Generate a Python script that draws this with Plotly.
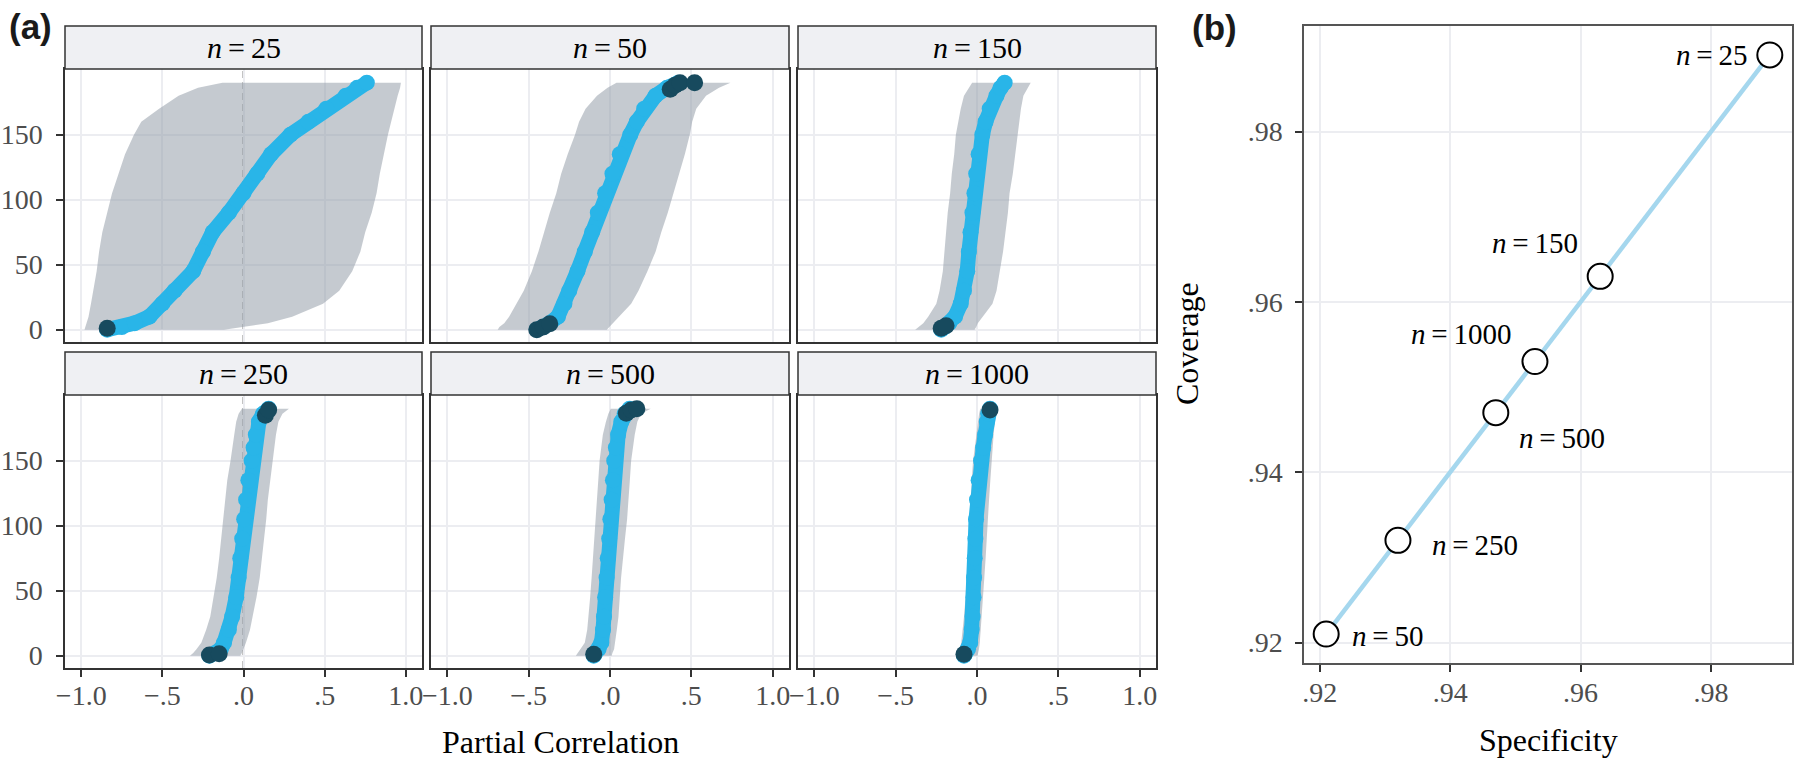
import plotly.graph_objects as go

# ---- panel (a): ranked partial correlations with intervals ----
ranks = [0, 2, 5, 10, 20, 30, 45, 60, 75, 90, 105, 120, 135, 150, 160, 170, 180, 186, 190]
panels = ["25", "50", "150", "250", "500", "1000"]

est_25 = [-0.84, -0.75, -0.67, -0.58, -0.50, -0.425, -0.31, -0.25, -0.19, -0.09, 0.0, 0.085, 0.17, 0.29, 0.40, 0.51, 0.63, 0.70, 0.76]
lo_25 = [-0.98, -0.975, -0.965, -0.955, -0.94, -0.925, -0.905, -0.89, -0.87, -0.84, -0.81, -0.77, -0.73, -0.675, -0.63, -0.52, -0.40, -0.28, -0.13]
hi_25 = [-0.12, 0.0, 0.15, 0.30, 0.49, 0.59, 0.67, 0.72, 0.75, 0.79, 0.82, 0.84, 0.865, 0.89, 0.91, 0.93, 0.95, 0.965, 0.97]

est_50 = [-0.45, -0.41, -0.37, -0.32, -0.28, -0.25, -0.20, -0.155, -0.11, -0.075, -0.03, 0.015, 0.06, 0.125, 0.165, 0.21, 0.28, 0.35, 0.42]
lo_50 = [-0.69, -0.68, -0.65, -0.62, -0.575, -0.53, -0.48, -0.44, -0.405, -0.37, -0.33, -0.30, -0.26, -0.215, -0.19, -0.15, -0.08, -0.015, 0.04]
hi_50 = [-0.02, -0.005, 0.02, 0.055, 0.13, 0.175, 0.23, 0.28, 0.315, 0.355, 0.39, 0.425, 0.46, 0.49, 0.505, 0.53, 0.59, 0.67, 0.74]

est_150 = [-0.22, -0.20, -0.17, -0.135, -0.10, -0.08, -0.06, -0.05, -0.04, -0.028, -0.016, -0.005, 0.01, 0.033, 0.053, 0.078, 0.12, 0.145, 0.17]
lo_150 = [-0.38, -0.36, -0.33, -0.30, -0.25, -0.23, -0.21, -0.20, -0.19, -0.18, -0.165, -0.155, -0.14, -0.13, -0.115, -0.10, -0.08, -0.05, -0.03]
hi_150 = [-0.015, -0.005, 0.005, 0.035, 0.095, 0.12, 0.14, 0.16, 0.175, 0.19, 0.20, 0.22, 0.235, 0.25, 0.26, 0.27, 0.285, 0.31, 0.33]

est_250 = [-0.21, -0.15, -0.14, -0.12, -0.09, -0.07, -0.045, -0.03, -0.02, -0.008, 0.004, 0.016, 0.03, 0.05, 0.062, 0.076, 0.095, 0.12, 0.155]
lo_250 = [-0.33, -0.31, -0.29, -0.26, -0.23, -0.205, -0.185, -0.165, -0.15, -0.137, -0.125, -0.114, -0.10, -0.08, -0.07, -0.057, -0.045, -0.03, -0.01]
hi_250 = [-0.02, -0.01, 0.0, 0.015, 0.04, 0.058, 0.08, 0.10, 0.115, 0.128, 0.14, 0.15, 0.165, 0.18, 0.19, 0.20, 0.215, 0.24, 0.28]

est_500 = [-0.10, -0.09, -0.07, -0.053, -0.043, -0.037, -0.03, -0.021, -0.014, -0.005, 0.002, 0.01, 0.018, 0.026, 0.036, 0.05, 0.07, 0.09, 0.12]
lo_500 = [-0.21, -0.20, -0.18, -0.155, -0.14, -0.132, -0.122, -0.113, -0.104, -0.095, -0.088, -0.08, -0.072, -0.064, -0.055, -0.044, -0.025, -0.01, 0.005]
hi_500 = [0.01, 0.015, 0.025, 0.032, 0.042, 0.052, 0.06, 0.068, 0.078, 0.092, 0.105, 0.115, 0.122, 0.13, 0.14, 0.152, 0.168, 0.19, 0.25]

est_1000 = [-0.08, -0.07, -0.055, -0.042, -0.033, -0.027, -0.021, -0.018, -0.014, -0.01, -0.006, 0.0, 0.01, 0.025, 0.038, 0.05, 0.06, 0.068, 0.08]
lo_1000 = [-0.125, -0.115, -0.105, -0.097, -0.087, -0.08, -0.07, -0.062, -0.055, -0.05, -0.045, -0.04, -0.033, -0.024, -0.015, -0.004, 0.005, 0.013, 0.02]
hi_1000 = [0.003, 0.006, 0.012, 0.017, 0.025, 0.03, 0.038, 0.045, 0.053, 0.061, 0.068, 0.074, 0.082, 0.09, 0.095, 0.102, 0.11, 0.118, 0.125]

# flagged (dark) points: x value and rank
flag_x_25, flag_r_25 = [-0.84], [1]
flag_x_50, flag_r_50 = [-0.45, -0.41, -0.37, 0.37, 0.40, 0.43, 0.52], [0, 2, 4.5, 185, 188, 190, 190]
flag_x_150, flag_r_150 = [-0.22, -0.19], [1, 3]
flag_x_250, flag_r_250 = [-0.21, -0.15, 0.135, 0.155], [0.5, 1.5, 185, 189]
flag_x_500, flag_r_500 = [-0.10, 0.10, 0.13, 0.165], [1, 186.5, 189, 190]
flag_x_1000, flag_r_1000 = [-0.08, 0.08], [1, 189]

est = [est_25, est_50, est_150, est_250, est_500, est_1000]
lo = [lo_25, lo_50, lo_150, lo_250, lo_500, lo_1000]
hi = [hi_25, hi_50, hi_150, hi_250, hi_500, hi_1000]
flag_x = [flag_x_25, flag_x_50, flag_x_150, flag_x_250, flag_x_500, flag_x_1000]
flag_r = [flag_r_25, flag_r_50, flag_r_150, flag_r_250, flag_r_500, flag_r_1000]

# ---- panel (b): specificity vs coverage ----
b_labels = ["25", "50", "150", "250", "500", "1000"]
specificity = [0.989, 0.921, 0.963, 0.932, 0.947, 0.953]
coverage = [0.989, 0.921, 0.963, 0.932, 0.947, 0.953]

W, H = 1800, 764
SERIF = "Liberation Serif"
GRID = "#ECEDF1"
BORDER = "#333333"
TICKFONT = dict(family=SERIF, size=28, color="#4D4D4D")
EQ = "\u2009=\u2009"


def px(p):
    return p / W


def py(p):
    return 1 - p / H


cols = [(65, 422), (431, 789), (798, 1156)]
rows = [(69, 342), (395, 668)]
strips = [(26, 69), (352, 395)]

fig = go.Figure()
layout = dict(width=W, height=H, margin=dict(l=0, r=0, t=0, b=0, autoexpand=False),
              paper_bgcolor="white", plot_bgcolor="white", showlegend=False)
shapes, annotations = [], []

for i, n in enumerate(panels):
    r, c = divmod(i, 3)
    k = i + 1
    xa = "x" if k == 1 else f"x{k}"
    ya = "y" if k == 1 else f"y{k}"
    layout["xaxis" if k == 1 else f"xaxis{k}"] = dict(
        domain=[px(cols[c][0]), px(cols[c][1])], range=[-1.1, 1.1], anchor=ya, automargin=False,
        tickvals=[-1, -0.5, 0, 0.5, 1], ticktext=["\u22121.0", "\u2212.5", ".0", ".5", "1.0"],
        showticklabels=(r == 1), ticks="outside" if r == 1 else "", ticklen=7, tickwidth=1.5,
        tickcolor=BORDER, tickfont=TICKFONT, ticklabelstandoff=-5,
        showgrid=True, gridcolor=GRID, gridwidth=1.5, zeroline=False,
        showline=True, mirror=True, linecolor=BORDER, linewidth=1.5)
    layout["yaxis" if k == 1 else f"yaxis{k}"] = dict(
        domain=[py(rows[r][1]), py(rows[r][0])], range=[-9.5, 200.5], anchor=xa, automargin=False,
        tickvals=[0, 50, 100, 150], showticklabels=(c == 0),
        ticks="outside" if c == 0 else "", ticklen=7, tickwidth=1.5, tickcolor=BORDER,
        tickfont=TICKFONT, ticklabelstandoff=8,
        showgrid=True, gridcolor=GRID, gridwidth=1.5, zeroline=False,
        showline=True, mirror=True, linecolor=BORDER, linewidth=1.5)

    # dashed reference at zero
    shapes.append(dict(type="line", xref=xa, yref=f"{ya} domain", x0=0, x1=0, y0=0, y1=1,
                       line=dict(color="#3a3a3a", width=1.6, dash="7px,4px"), layer="below"))

    # interval band
    fig.add_trace(go.Scatter(
        x=lo[i] + hi[i][::-1], y=ranks + ranks[::-1], xaxis=xa, yaxis=ya,
        fill="toself", fillcolor="rgba(150,158,170,0.55)", mode="lines",
        line=dict(width=0), hoverinfo="skip"))
    # estimates
    fig.add_trace(go.Scatter(
        x=est[i], y=ranks, xaxis=xa, yaxis=ya, mode="lines+markers",
        line=dict(color="#29B5E8", width=15), marker=dict(color="#29B5E8", size=16)))
    fig.add_trace(go.Scatter(
        x=flag_x[i], y=flag_r[i], xaxis=xa, yaxis=ya, mode="markers",
        marker=dict(color="#174A5E", size=17)))

    # strip
    s0, s1 = strips[r]
    shapes.append(dict(type="rect", xref="paper", yref="paper",
                       x0=px(cols[c][0]), x1=px(cols[c][1]), y0=py(s1), y1=py(s0),
                       fillcolor="#EFF0F3", line=dict(color=BORDER, width=1.5)))
    annotations.append(dict(xref="paper", yref="paper", x=px((cols[c][0] + cols[c][1]) / 2),
                            y=py((s0 + s1) / 2), text=f"<i>n</i>{EQ}{n}", showarrow=False,
                            font=dict(family=SERIF, size=30, color="black"),
                            xanchor="center", yanchor="middle"))

# panel (b)
layout["xaxis7"] = dict(
    domain=[px(1304), px(1792)], range=[0.9176, 0.9924], anchor="y7", automargin=False,
    tickvals=[0.92, 0.94, 0.96, 0.98], ticktext=[".92", ".94", ".96", ".98"],
    ticks="outside", ticklen=7, tickwidth=1.5, tickcolor=BORDER, tickfont=TICKFONT,
    ticklabelstandoff=-3, showgrid=True, gridcolor=GRID, gridwidth=1.5, zeroline=False,
    showline=True, mirror=True, linecolor="#555555", linewidth=1.5)
layout["yaxis7"] = dict(
    domain=[py(663), py(26)], range=[0.9176, 0.9924], anchor="x7", automargin=False,
    tickvals=[0.92, 0.94, 0.96, 0.98], ticktext=[".92", ".94", ".96", ".98"],
    ticks="outside", ticklen=7, tickwidth=1.5, tickcolor=BORDER, tickfont=TICKFONT,
    ticklabelstandoff=7, showgrid=True, gridcolor=GRID, gridwidth=1.5, zeroline=False,
    showline=True, mirror=True, linecolor="#555555", linewidth=1.5)

pairs = sorted(zip(specificity, coverage))
fig.add_trace(go.Scatter(x=[p[0] for p in pairs], y=[p[1] for p in pairs], xaxis="x7", yaxis="y7",
                         mode="lines", line=dict(color="#A5D7EE", width=4.5)))
fig.add_trace(go.Scatter(x=specificity, y=coverage, xaxis="x7", yaxis="y7", mode="markers",
                         marker=dict(size=25, color="white", line=dict(color="black", width=2))))

label_pos = {"25": ("right", -21, 0), "50": ("left", 24, -2), "150": ("right", -20, 33),
             "250": ("left", 32, -5), "500": ("left", 21, -25), "1000": ("right", -22, 28)}
for lab, sx, cy in zip(b_labels, specificity, coverage):
    anc, dx, dy = label_pos[lab]
    annotations.append(dict(xref="x7", yref="y7", x=sx, y=cy, text=f"<i>n</i>{EQ}{lab}",
                            showarrow=False, xanchor=anc, yanchor="middle", xshift=dx, yshift=dy,
                            font=dict(family=SERIF, size=29, color="black")))

# titles and panel tags
annotations += [
    dict(xref="paper", yref="paper", x=px(560), y=py(742), text="Partial Correlation",
         showarrow=False, xanchor="center", yanchor="middle",
         font=dict(family=SERIF, size=32, color="black")),
    dict(xref="paper", yref="paper", x=px(1548), y=py(740), text="Specificity",
         showarrow=False, xanchor="center", yanchor="middle",
         font=dict(family=SERIF, size=32, color="black")),
    dict(xref="paper", yref="paper", x=px(1187), y=py(344), text="Coverage", textangle=-90,
         showarrow=False, xanchor="center", yanchor="middle",
         font=dict(family=SERIF, size=32, color="black")),
    dict(xref="paper", yref="paper", x=px(30), y=py(26), text="<b>(a)</b>",
         showarrow=False, xanchor="center", yanchor="middle",
         font=dict(family="Liberation Sans", size=35, color="#1a1a1a")),
    dict(xref="paper", yref="paper", x=px(1214), y=py(27), text="<b>(b)</b>",
         showarrow=False, xanchor="center", yanchor="middle",
         font=dict(family="Liberation Sans", size=35, color="#1a1a1a")),
]

layout["shapes"] = shapes
layout["annotations"] = annotations
fig.update_layout(**layout)
fig.write_html("out.html", config={"displayModeBar": False},
               post_script="document.body.style.margin='0';")
